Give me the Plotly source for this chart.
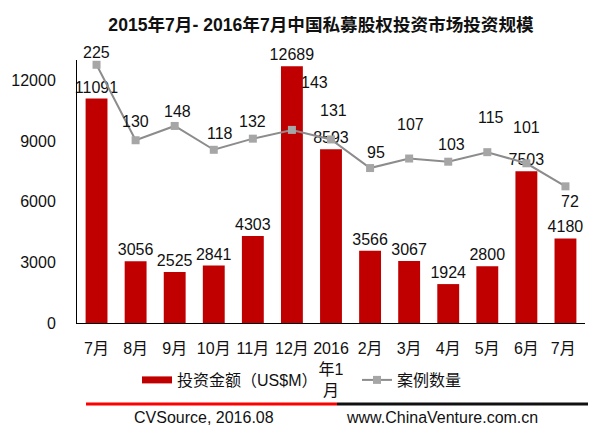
import plotly.graph_objects as go

months = ["7月", "8月", "9月", "10月", "11月", "12月", "2016<br>年1<br>月",
          "2月", "3月", "4月", "5月", "6月", "7月 "]
amount = [11091, 3056, 2525, 2841, 4303, 12689, 8593, 3566, 3067, 1924, 2800, 7503, 4180]
deals = [225, 130, 148, 118, 132, 143, 131, 95, 107, 103, 115, 101, 72]

# label offsets for the deal-count labels (style only, pixels)
deal_dx = [0, 0, 3, 6, 0, 23, 2, 6, 1, 3, 4, 0, 5]
deal_dy = [12, 19, 14, 16, 17, 47, 29, 16, 34, 17, 35, 36, -15]

FONT = "Liberation Sans, Arial, Noto Sans CJK SC, sans-serif"
CJK = "Liberation Sans, Noto Sans CJK SC, sans-serif"
RED = "#C00000"
GRAY_LINE = "#8C8C8C"
GRAY_MARK = "#A6A6A6"

fig = go.Figure()
fig.add_trace(go.Bar(
    x=months, y=amount, name="投资金额（US$M）", showlegend=False,
    marker=dict(color=RED, line=dict(width=0)),
    text=[str(v) for v in amount], textposition="outside",
    constraintext="none",
    textfont=dict(size=16, color="#111111", family=FONT),
    cliponaxis=False, width=0.56,
))
fig.add_trace(go.Scatter(
    x=months, y=deals, name="案例数量", yaxis="y2", showlegend=False,
    mode="lines+markers",
    line=dict(color=GRAY_LINE, width=2),
    marker=dict(symbol="square", size=8, color=GRAY_MARK),
    cliponaxis=False,
))
# legend entries
fig.add_trace(go.Scatter(
    x=[None], y=[None], name="投资金额（US$M）", mode="lines",
    line=dict(color=RED, width=7), showlegend=True,
))
fig.add_trace(go.Scatter(
    x=[None], y=[None], name="案例数量", mode="lines+markers",
    line=dict(color=GRAY_LINE, width=2),
    marker=dict(symbol="square", size=8, color=GRAY_MARK), showlegend=True,
))

for m, v, dx, dy in zip(months, deals, deal_dx, deal_dy):
    fig.add_annotation(x=m, y=v, yref="y2", xref="x", text=str(v),
                       showarrow=False, xanchor="center", yanchor="middle",
                       xshift=dx, yshift=dy,
                       font=dict(size=16, family=FONT, color="#111111"))

fig.update_layout(
    width=610, height=440,
    margin=dict(l=77, r=25, t=60, b=117, autoexpand=False),
    paper_bgcolor="white", plot_bgcolor="white",
    font=dict(family=CJK, size=16, color="#111111"),
    title=dict(text="<b>2015年7月- 2016年7月中国私募股权投资市场投资规模</b>",
               x=321/610, xanchor="center", y=1 - 24.5/440, yanchor="middle",
               font=dict(size=17.6, family=CJK, color="#111111")),
    showlegend=True,
    legend=dict(orientation="h", x=(137 - 77) / 508, xanchor="left",
                y=(323 - 380) / 263, yanchor="middle",
                font=dict(size=16, family=CJK), bgcolor="rgba(0,0,0,0)",
                itemwidth=30, entrywidth=175, entrywidthmode="pixels",
                tracegroupgap=0),
    xaxis=dict(type="category", range=[-0.5, len(months) - 0.5],
               showline=True, linecolor="black", linewidth=1,
               ticks="", showgrid=False, tickfont=dict(size=16, family=CJK),
               tickangle=0, ticklabelstandoff=11, automargin=False),
    yaxis=dict(range=[0, 13000], tickvals=[0, 3000, 6000, 9000, 12000],
               tickformat="d", automargin=False,
               showline=True, linecolor="black", linewidth=1,
               showgrid=False, zeroline=False, ticks="",
               ticklabelstandoff=17, tickfont=dict(size=16, family=FONT)),
    yaxis2=dict(range=[-100, 231], overlaying="y", side="right",
                visible=False, showgrid=False, zeroline=False),
)

# footer lines and source text
fy = (323 - 404) / 263
fig.add_shape(type="line", xref="paper", yref="paper",
              x0=(86 - 77) / 508, x1=(337 - 77) / 508, y0=fy, y1=fy,
              line=dict(color="#FF0000", width=3))
fig.add_shape(type="line", xref="paper", yref="paper",
              x0=(337 - 77) / 508, x1=(588 - 77) / 508, y0=fy, y1=fy,
              line=dict(color="#111111", width=3))
fig.add_annotation(text="CVSource, 2016.08", xref="paper", yref="paper",
                   x=(204 - 77) / 508, y=(323 - 418) / 263, showarrow=False,
                   xanchor="center", yanchor="middle",
                   font=dict(size=16, family=FONT, color="#111111"))
fig.add_annotation(text="www.ChinaVenture.com.cn", xref="paper", yref="paper",
                   x=(442 - 77) / 508, y=(323 - 418) / 263, showarrow=False,
                   xanchor="center", yanchor="middle",
                   font=dict(size=16, family=FONT, color="#111111"))

fig.write_html("out.html", config={"displayModeBar": False},
               post_script="document.body.style.margin='0';"
                           "document.body.style.overflow='hidden';")
